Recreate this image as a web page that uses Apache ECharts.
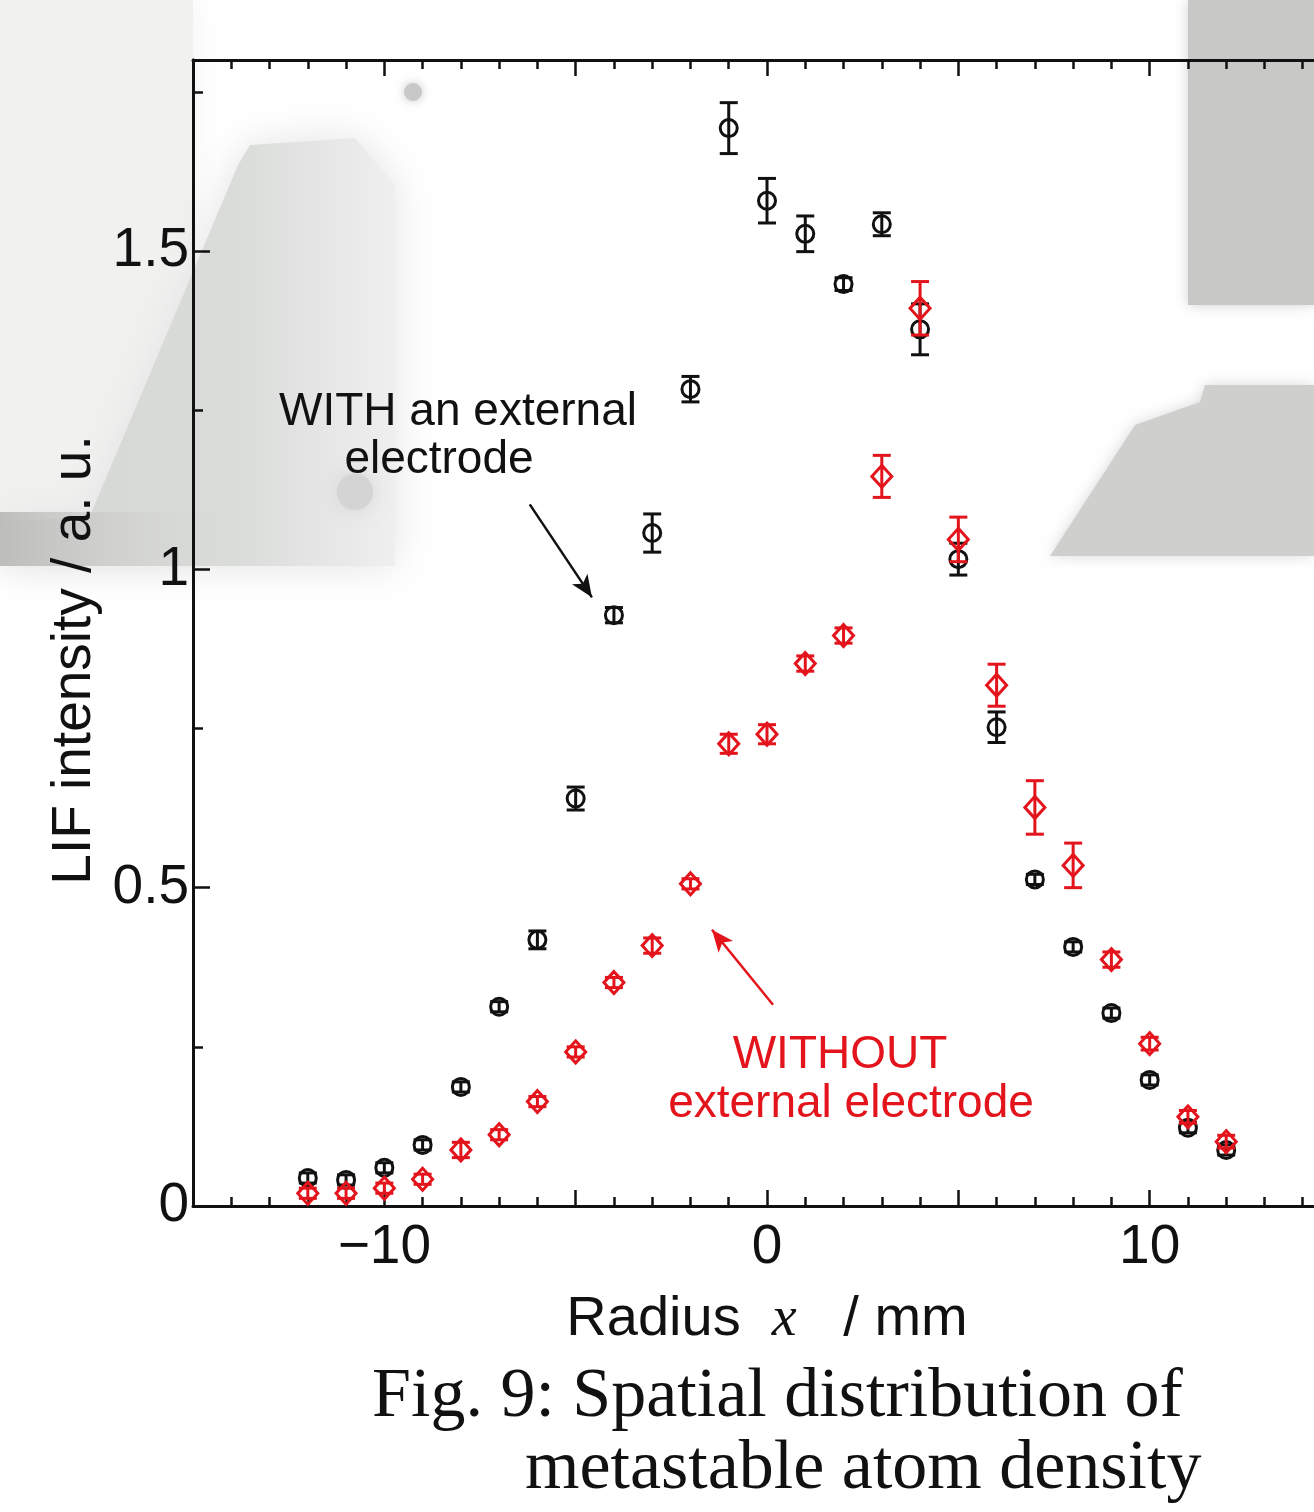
<!DOCTYPE html>
<html>
<head>
<meta charset="utf-8">
<script src="https://cdn.jsdelivr.net/npm/echarts@6/dist/echarts.min.js"></script>
<style>
html, body { margin: 0; padding: 0; background: #fff; }
#chart { width: 1314px; height: 1512px; }
</style>
</head>
<body>
<div id="chart"></div>
<script>
var myChart = echarts.init(document.getElementById('chart'));

// radius positions (mm)
var radius = [-12, -11, -10, -9, -8, -7, -6, -5, -4, -3, -2, -1, 0, 1, 2, 3, 4, 5, 6, 7, 8, 9, 10, 11, 12];
// WITH an external electrode (black circles)
var withVals = [0.044, 0.041, 0.060, 0.096, 0.187, 0.313, 0.418, 0.640, 0.928, 1.057, 1.283, 1.693, 1.579, 1.527, 1.448, 1.542, 1.377, 1.016, 0.752, 0.513, 0.407, 0.303, 0.198, 0.123, 0.088];
var withErr  = [0.008, 0.008, 0.008, 0.008, 0.008, 0.008, 0.014, 0.018, 0.012, 0.030, 0.020, 0.040, 0.035, 0.028, 0.010, 0.018, 0.040, 0.025, 0.024, 0.008, 0.008, 0.008, 0.008, 0.008, 0.008];
// WITHOUT external electrode (red diamonds)
var withoutVals = [0.020, 0.020, 0.028, 0.042, 0.088, 0.112, 0.164, 0.242, 0.351, 0.409, 0.506, 0.726, 0.741, 0.852, 0.896, 1.146, 1.410, 1.047, 0.818, 0.626, 0.535, 0.387, 0.255, 0.140, 0.101];
var withoutErr  = [0.008, 0.008, 0.008, 0.008, 0.012, 0.008, 0.008, 0.008, 0.008, 0.012, 0.008, 0.015, 0.015, 0.012, 0.012, 0.033, 0.042, 0.035, 0.033, 0.042, 0.035, 0.012, 0.010, 0.010, 0.010];

// annotation arrows, [from, to] in data units
var arrowWith = [[-6.2, 1.102], [-4.575, 0.956]];
var arrowWithout = [[0.157, 0.316], [-1.438, 0.434]];

var BLACK = '#111111';
var RED = '#e3141c';
var SANS = '"Liberation Sans", Arial, Helvetica, sans-serif';
var SERIF = '"Liberation Serif", "Times New Roman", serif';

function pts(vals, err) {
	var out = [];
	for (var i = 0; i < radius.length; i++) {
		out.push([radius[i], vals[i], err[i]]);
	}
	return out;
}

function errBar(color) {
	return function (params, api) {
		var x = api.value(0), y = api.value(1), e = api.value(2);
		var hi = api.coord([x, y + e]);
		var lo = api.coord([x, y - e]);
		var hw = 9;
		var st = { stroke: color, lineWidth: 3 };
		return {
			type: 'group',
			children: [
				{ type: 'line', shape: { x1: hi[0], y1: hi[1], x2: lo[0], y2: lo[1] }, style: st },
				{ type: 'line', shape: { x1: hi[0] - hw, y1: hi[1], x2: hi[0] + hw, y2: hi[1] }, style: st },
				{ type: 'line', shape: { x1: lo[0] - hw, y1: lo[1], x2: lo[0] + hw, y2: lo[1] }, style: st }
			]
		};
	};
}

function xTickLabel(v) {
	if (v % 10 !== 0 || Math.abs(v) > 10) return '';
	return v < 0 ? '\u2212' + Math.abs(v) : String(v);
}

var xBase = {
	type: 'value',
	min: -15,
	max: 15,
	interval: 5,
	splitLine: { show: false },
	axisLine: { onZero: false, lineStyle: { color: BLACK, width: 3 } },
	axisTick: { inside: true, length: 16, lineStyle: { color: BLACK, width: 2.5 } },
	minorTick: { show: true, splitNumber: 5, length: 9, lineStyle: { color: BLACK, width: 2.5 } }
};

var yBase = {
	type: 'value',
	min: 0,
	max: 1.8,
	position: 'left',
	splitLine: { show: false },
	axisLine: { show: true, onZero: false, lineStyle: { color: BLACK, width: 3 } }
};

option = {
	backgroundColor: '#ffffff',
	animation: false,
	grid: {
		left: 193,
		right: -27,
		top: 60,
		bottom: 306,
		outerBoundsMode: 'none'
	},
	graphic: [
		// faded photo in the background
		{ type: 'rect', z: -10, shape: { x: 0, y: 0, width: 193, height: 566 },
			style: { fill: '#f1f2f0', shadowBlur: 30, shadowColor: '#f1f2f0' } },
		{ type: 'polygon', z: -9, shape: { points: [[250, 145], [355, 138], [395, 185], [395, 566], [0, 566], [0, 522], [90, 516], [238, 165]] },
			style: {
				fill: new echarts.graphic.LinearGradient(0, 0, 1, 0, [{ offset: 0, color: '#d5d7d5' }, { offset: 0.6, color: '#dadcda' }, { offset: 1, color: '#eeefee' }]),
				shadowBlur: 40, shadowColor: '#e2e3e2'
			} },
		{ type: 'rect', z: -8, shape: { x: 0, y: 512, width: 230, height: 54 },
			style: { fill: new echarts.graphic.LinearGradient(0, 0, 1, 0, [{ offset: 0, color: '#bdbdbb' }, { offset: 1, color: 'rgba(213,215,213,0)' }]) } },
		{ type: 'rect', z: -8, shape: { x: 1188, y: 0, width: 126, height: 305 },
			style: { fill: '#c8c9c7', shadowBlur: 12, shadowColor: '#d2d2d2' } },
		{ type: 'polygon', z: -8, shape: { points: [[1205, 385], [1314, 385], [1314, 556], [1050, 556], [1135, 425], [1200, 402]] },
			style: { fill: '#cfd0ce', shadowBlur: 14, shadowColor: '#dadada' } },
		{ type: 'circle', z: -8, shape: { cx: 413, cy: 92, r: 9 }, style: { fill: '#c8c8c8', shadowBlur: 10, shadowColor: '#c8c8c8' } },
		{ type: 'circle', z: -8, shape: { cx: 355, cy: 492, r: 18 }, style: { fill: '#d4d4d4', shadowBlur: 18, shadowColor: '#d4d4d4' } },
		// annotations
		{ type: 'text', style: { x: 458, y: 412, text: 'WITH an external', fill: BLACK, font: '46px ' + SANS, align: 'center', verticalAlign: 'middle' } },
		{ type: 'text', style: { x: 439, y: 460, text: 'electrode', fill: BLACK, font: '46px ' + SANS, align: 'center', verticalAlign: 'middle' } },
		{ type: 'text', style: { x: 840, y: 1055, text: 'WITHOUT', fill: RED, font: '46px ' + SANS, align: 'center', verticalAlign: 'middle' } },
		{ type: 'text', style: { x: 851, y: 1104, text: 'external electrode', fill: RED, font: '46px ' + SANS, align: 'center', verticalAlign: 'middle' } },
		// y axis title
		{ type: 'text', x: 75, y: 660, rotation: Math.PI / 2,
			style: { x: 0, y: 0, text: 'LIF intensity / a. u.', fill: BLACK, font: '55px ' + SANS, align: 'center', verticalAlign: 'middle' } },
		// caption
		{ type: 'text', style: { x: 372, y: 1398, text: 'Fig. 9: Spatial distribution of', fill: BLACK, font: '70px ' + SERIF, align: 'left', verticalAlign: 'middle' } },
		{ type: 'text', style: { x: 525, y: 1470, text: 'metastable atom density', fill: BLACK, font: '70px ' + SERIF, align: 'left', verticalAlign: 'middle' } }
	],
	xAxis: [
		echarts.util.merge({
			position: 'bottom',
			name: 'Radius  {i|x}   / mm',
			nameLocation: 'middle',
			nameGap: 86,
			nameTextStyle: {
				color: BLACK, fontSize: 56, fontFamily: SANS,
				rich: { i: { fontFamily: SERIF, fontStyle: 'italic', fontSize: 56, color: BLACK } }
			},
			axisLabel: { color: BLACK, fontSize: 55, fontFamily: SANS, margin: 14, formatter: xTickLabel }
		}, xBase, true),
		echarts.util.merge({
			position: 'top',
			axisLabel: { show: false }
		}, xBase, true)
	],
	yAxis: [
		echarts.util.merge({
			interval: 0.5,
			axisTick: { inside: true, length: 17, lineStyle: { color: BLACK, width: 2.5 } },
			axisLabel: {
				color: BLACK, fontSize: 55, fontFamily: SANS, margin: 4,
				formatter: function (v) { return v % 0.5 === 0 ? String(v) : ''; }
			}
		}, yBase, true),
		echarts.util.merge({
			interval: 0.25,
			axisTick: { inside: true, length: 10, lineStyle: { color: BLACK, width: 2.5 } },
			axisLabel: { show: false }
		}, yBase, true)
	],
	series: [
		{
			name: 'WITH err', type: 'custom', renderItem: errBar(BLACK), silent: true,
			data: pts(withVals, withErr), z: 3
		},
		{
			name: 'WITH an external electrode', type: 'scatter', symbol: 'circle', symbolSize: 17,
			itemStyle: { color: 'rgba(0,0,0,0)', borderColor: BLACK, borderWidth: 3, opacity: 1 },
			data: pts(withVals, withErr), z: 4,
			markLine: {
				silent: true, symbol: ['none', 'arrow'], symbolSize: [14, 22],
				label: { show: false },
				lineStyle: { color: BLACK, width: 2.5, type: 'solid' },
				data: [[{ coord: arrowWith[0] }, { coord: arrowWith[1] }]]
			}
		},
		{
			name: 'WITHOUT err', type: 'custom', renderItem: errBar(RED), silent: true,
			data: pts(withoutVals, withoutErr), z: 5
		},
		{
			name: 'WITHOUT external electrode', type: 'scatter', symbol: 'diamond', symbolSize: [20, 22],
			itemStyle: { color: 'rgba(0,0,0,0)', borderColor: RED, borderWidth: 3, opacity: 1 },
			data: pts(withoutVals, withoutErr), z: 6,
			markLine: {
				silent: true, symbol: ['none', 'arrow'], symbolSize: [14, 22],
				label: { show: false },
				lineStyle: { color: RED, width: 2.5, type: 'solid' },
				data: [[{ coord: arrowWithout[0] }, { coord: arrowWithout[1] }]]
			}
		}
	]
};
myChart.setOption(option);
</script>
</body>
</html>
